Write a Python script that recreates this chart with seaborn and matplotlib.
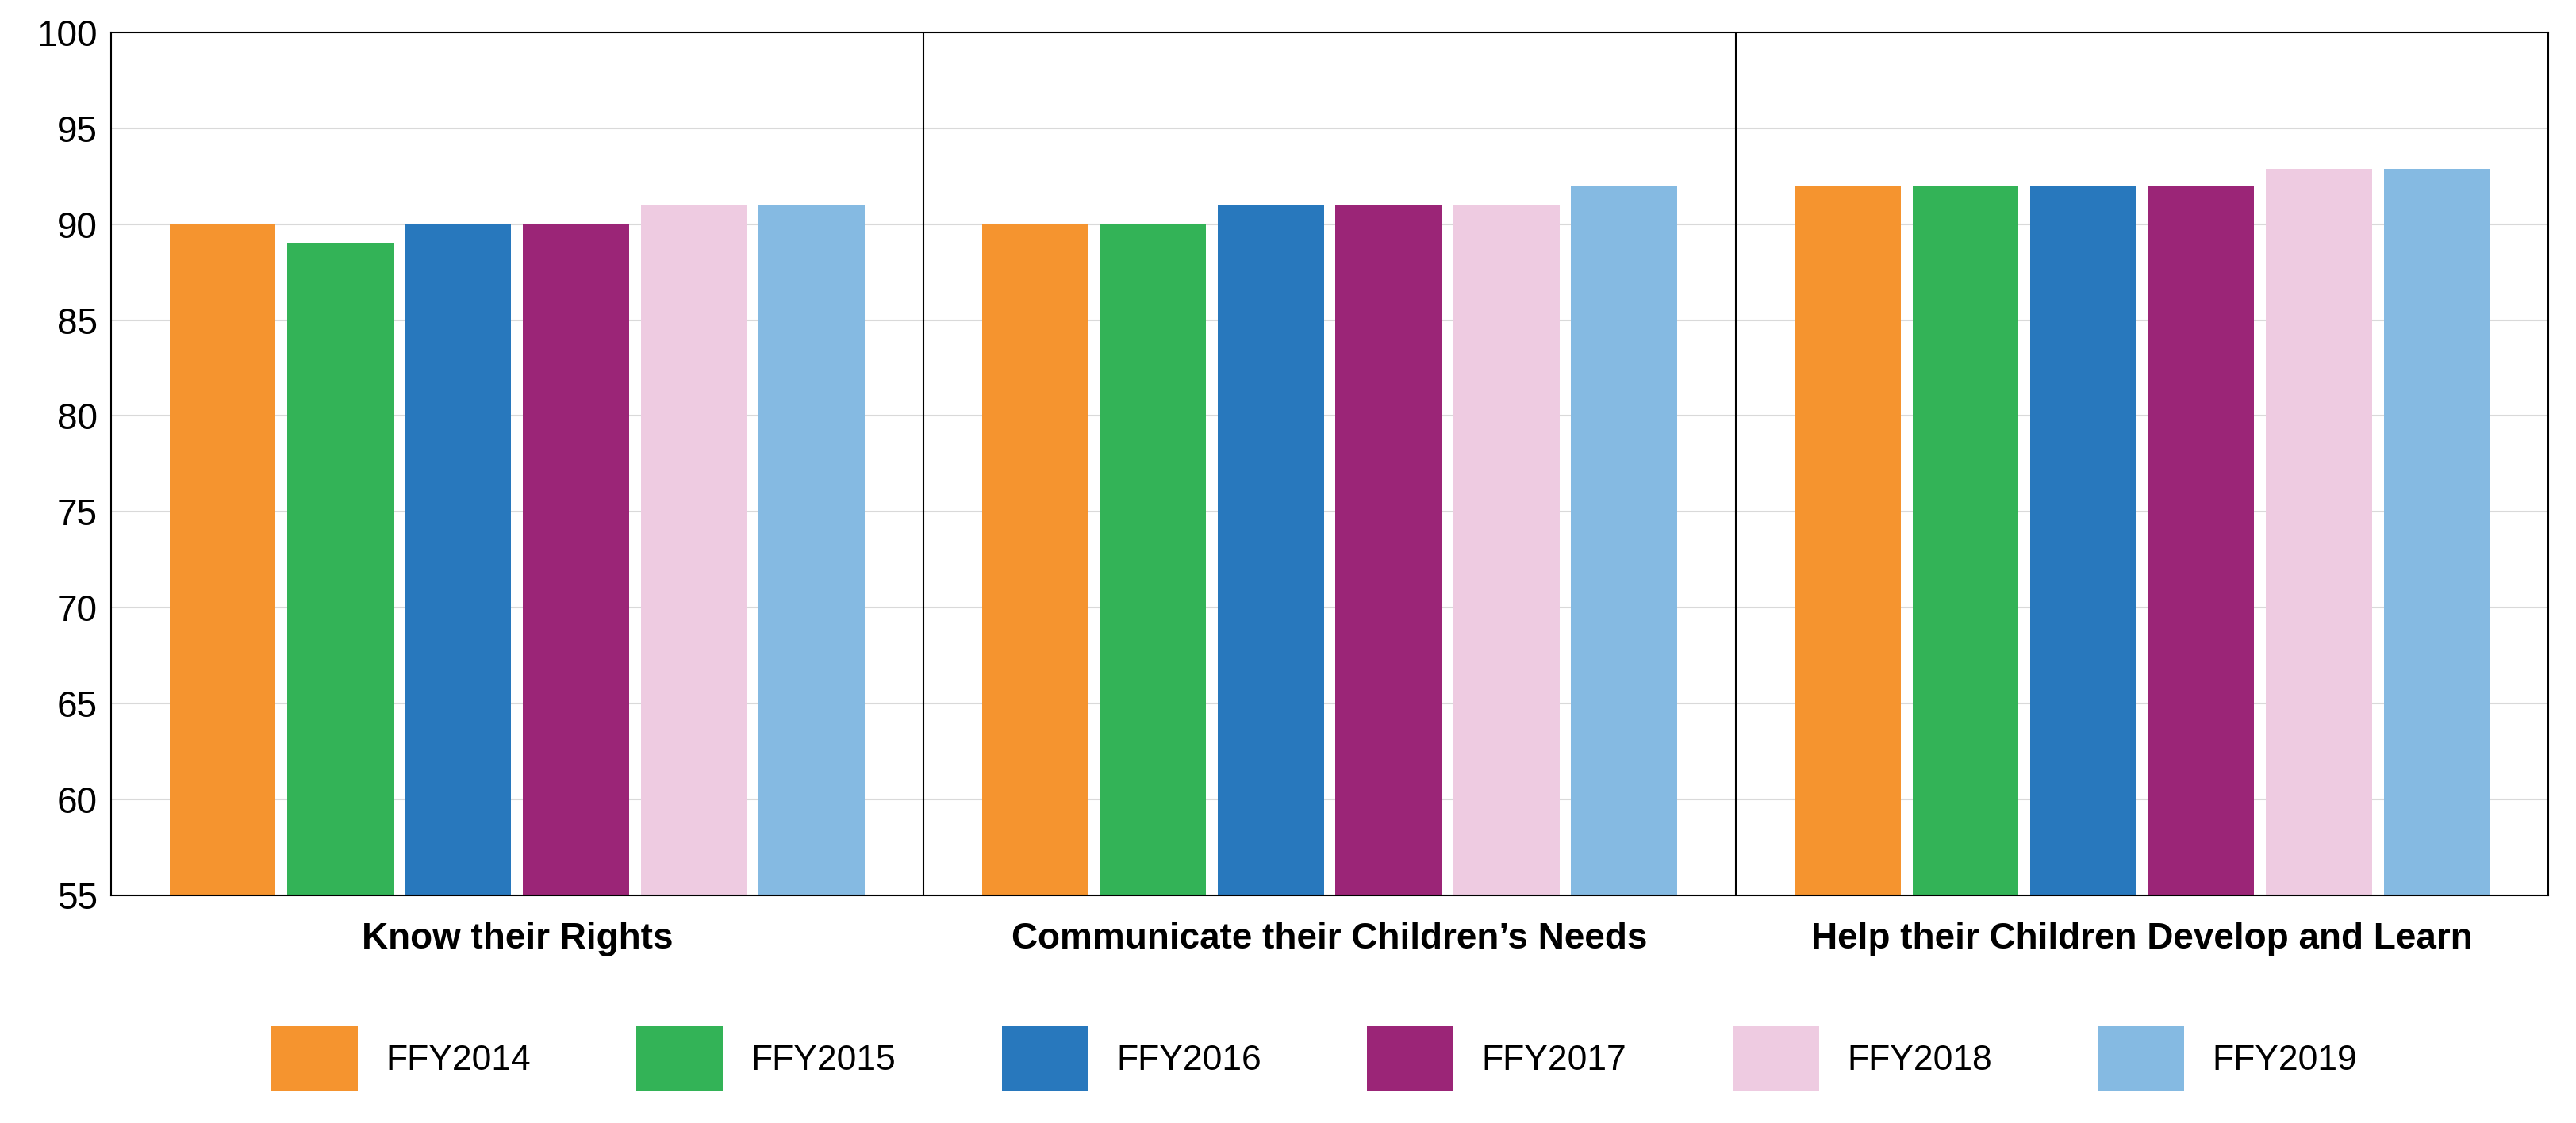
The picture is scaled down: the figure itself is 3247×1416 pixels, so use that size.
import matplotlib
matplotlib.use("Agg")
import matplotlib.pyplot as plt
import seaborn as sns
import pandas as pd
from matplotlib.patches import Patch

categories = ["Know their Rights", "Communicate their Children\u2019s Needs", "Help their Children Develop and Learn"]
years = ["FFY2014", "FFY2015", "FFY2016", "FFY2017", "FFY2018", "FFY2019"]
values = {
    "FFY2014": [90, 90, 92],
    "FFY2015": [89, 90, 92],
    "FFY2016": [90, 91, 92],
    "FFY2017": [90, 91, 92],
    "FFY2018": [91, 91, 92.9],
    "FFY2019": [91, 92, 92.9],
}
colors = ["#F5942F", "#33B357", "#2878BD", "#9B2577", "#EECBE1", "#85BAE2"]

rows = [(c, y, values[y][i]) for y in years for i, c in enumerate(categories)]
df = pd.DataFrame(rows, columns=["cat", "year", "val"])

plt.rcParams["font.family"] = "Liberation Sans"
fig = plt.figure(figsize=(32.48, 14.16), dpi=100)
ax = fig.add_axes([0.043, 0.203, 0.946, 0.768])
sns.barplot(data=df, x="cat", y="val", hue="year", hue_order=years, palette=colors,
            width=0.87, gap=0.1, ax=ax, legend=False, saturation=1)
ax.set_ylim(55, 100)
ax.set_yticks(range(55, 101, 5))
ax.set_xlim(-0.5, 2.5)
ax.yaxis.grid(True, color="#D9D9D9", linewidth=1.5)
ax.set_axisbelow(True)
for x in [0.5, 1.5]:
    ax.axvline(x, color="black", linewidth=1.5)
for s in ax.spines.values():
    s.set_color("black"); s.set_linewidth(1.5)
ax.set_xlabel(""); ax.set_ylabel("")
ax.tick_params(axis="y", labelsize=33, length=0, pad=12)
ax.tick_params(axis="x", labelsize=33, length=0, pad=24)
for t in ax.get_xticklabels():
    t.set_fontweight("bold")
handles = [Patch(facecolor=c, label=y) for c, y in zip(colors, years)]
fig.legend(handles=handles, loc="lower center", bbox_to_anchor=(0.51, 0.0), ncol=6,
           frameon=False, fontsize=32, handlelength=2.45, handleheight=2.45,
           columnspacing=3.0, handletextpad=0.8)
fig.savefig("out.png", dpi=100)
